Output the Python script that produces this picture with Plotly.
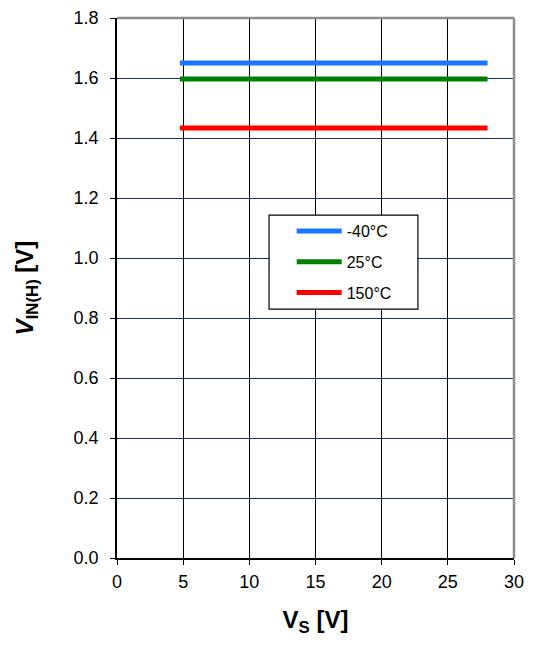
import plotly.graph_objects as go

# Data
vs = [4.75, 28.0]
series_names = ["-40°C", "25°C", "150°C"]
vin_h = [
    [1.65, 1.65],
    [1.597, 1.597],
    [1.433, 1.433],
]
colors = ["#1a75ff", "#008000", "#ff0000"]

fig = go.Figure()
for i, name in enumerate(series_names):
    fig.add_trace(go.Scatter(x=vs, y=vin_h[i], mode="lines", name=name,
                             legendgroup=name,
                             line=dict(color=colors[i], width=5)))

# page body has an 8px margin, so the figure is kept inside the window
fig.update_layout(
    width=519, height=629,
    margin=dict(l=109, r=13, t=10, b=79),
    plot_bgcolor="white", paper_bgcolor="white",
    font=dict(family="Arial, Liberation Sans", size=18, color="black"),
    showlegend=True,
    legend=dict(x=0.44, y=0.637, xanchor="left", yanchor="top",
                bgcolor="rgba(0,0,0,0)", borderwidth=0,
                font=dict(size=16), tracegroupgap=7, itemwidth=45),
    shapes=[
        # legend frame (wider than plotly's own box)
        dict(type="rect", xref="paper", yref="paper", x0=0.383, x1=0.758,
             y0=0.461, y1=0.635, fillcolor="white", layer="above",
             line=dict(color="black", width=1.2)),
        dict(type="line", xref="paper", yref="paper", x0=0, x1=1, y0=1, y1=1,
             line=dict(color="#8c8c8c", width=2.5)),
        dict(type="line", xref="paper", yref="paper", x0=1, x1=1, y0=0, y1=1,
             line=dict(color="#8c8c8c", width=2.5)),
    ],
)

fig.update_xaxes(range=[0, 30], tick0=0, dtick=5, showgrid=True,
                 gridcolor="black", gridwidth=1.3, zeroline=False,
                 showline=True, linecolor="black", linewidth=1.5,
                 ticks="outside", ticklen=5, tickcolor="black", automargin=False,
                 ticklabelstandoff=2,
                 title=dict(text="<b>V<sub>S</sub> [V]</b>", font=dict(size=24),
                            standoff=34))
fig.update_yaxes(range=[0, 1.8], tick0=0, dtick=0.2, tickformat=".1f",
                 showgrid=True, gridcolor="#1c2a66", gridwidth=1.2,
                 zeroline=False, showline=True, linecolor="black", linewidth=1.5,
                 ticks="outside", ticklen=5, tickcolor="black", automargin=False,
                 ticklabelstandoff=8,
                 title=dict(text="<b><i>V</i><sub>IN(H)</sub> [V]</b>", font=dict(size=24),
                            standoff=33))

fig.write_html("out.html")
